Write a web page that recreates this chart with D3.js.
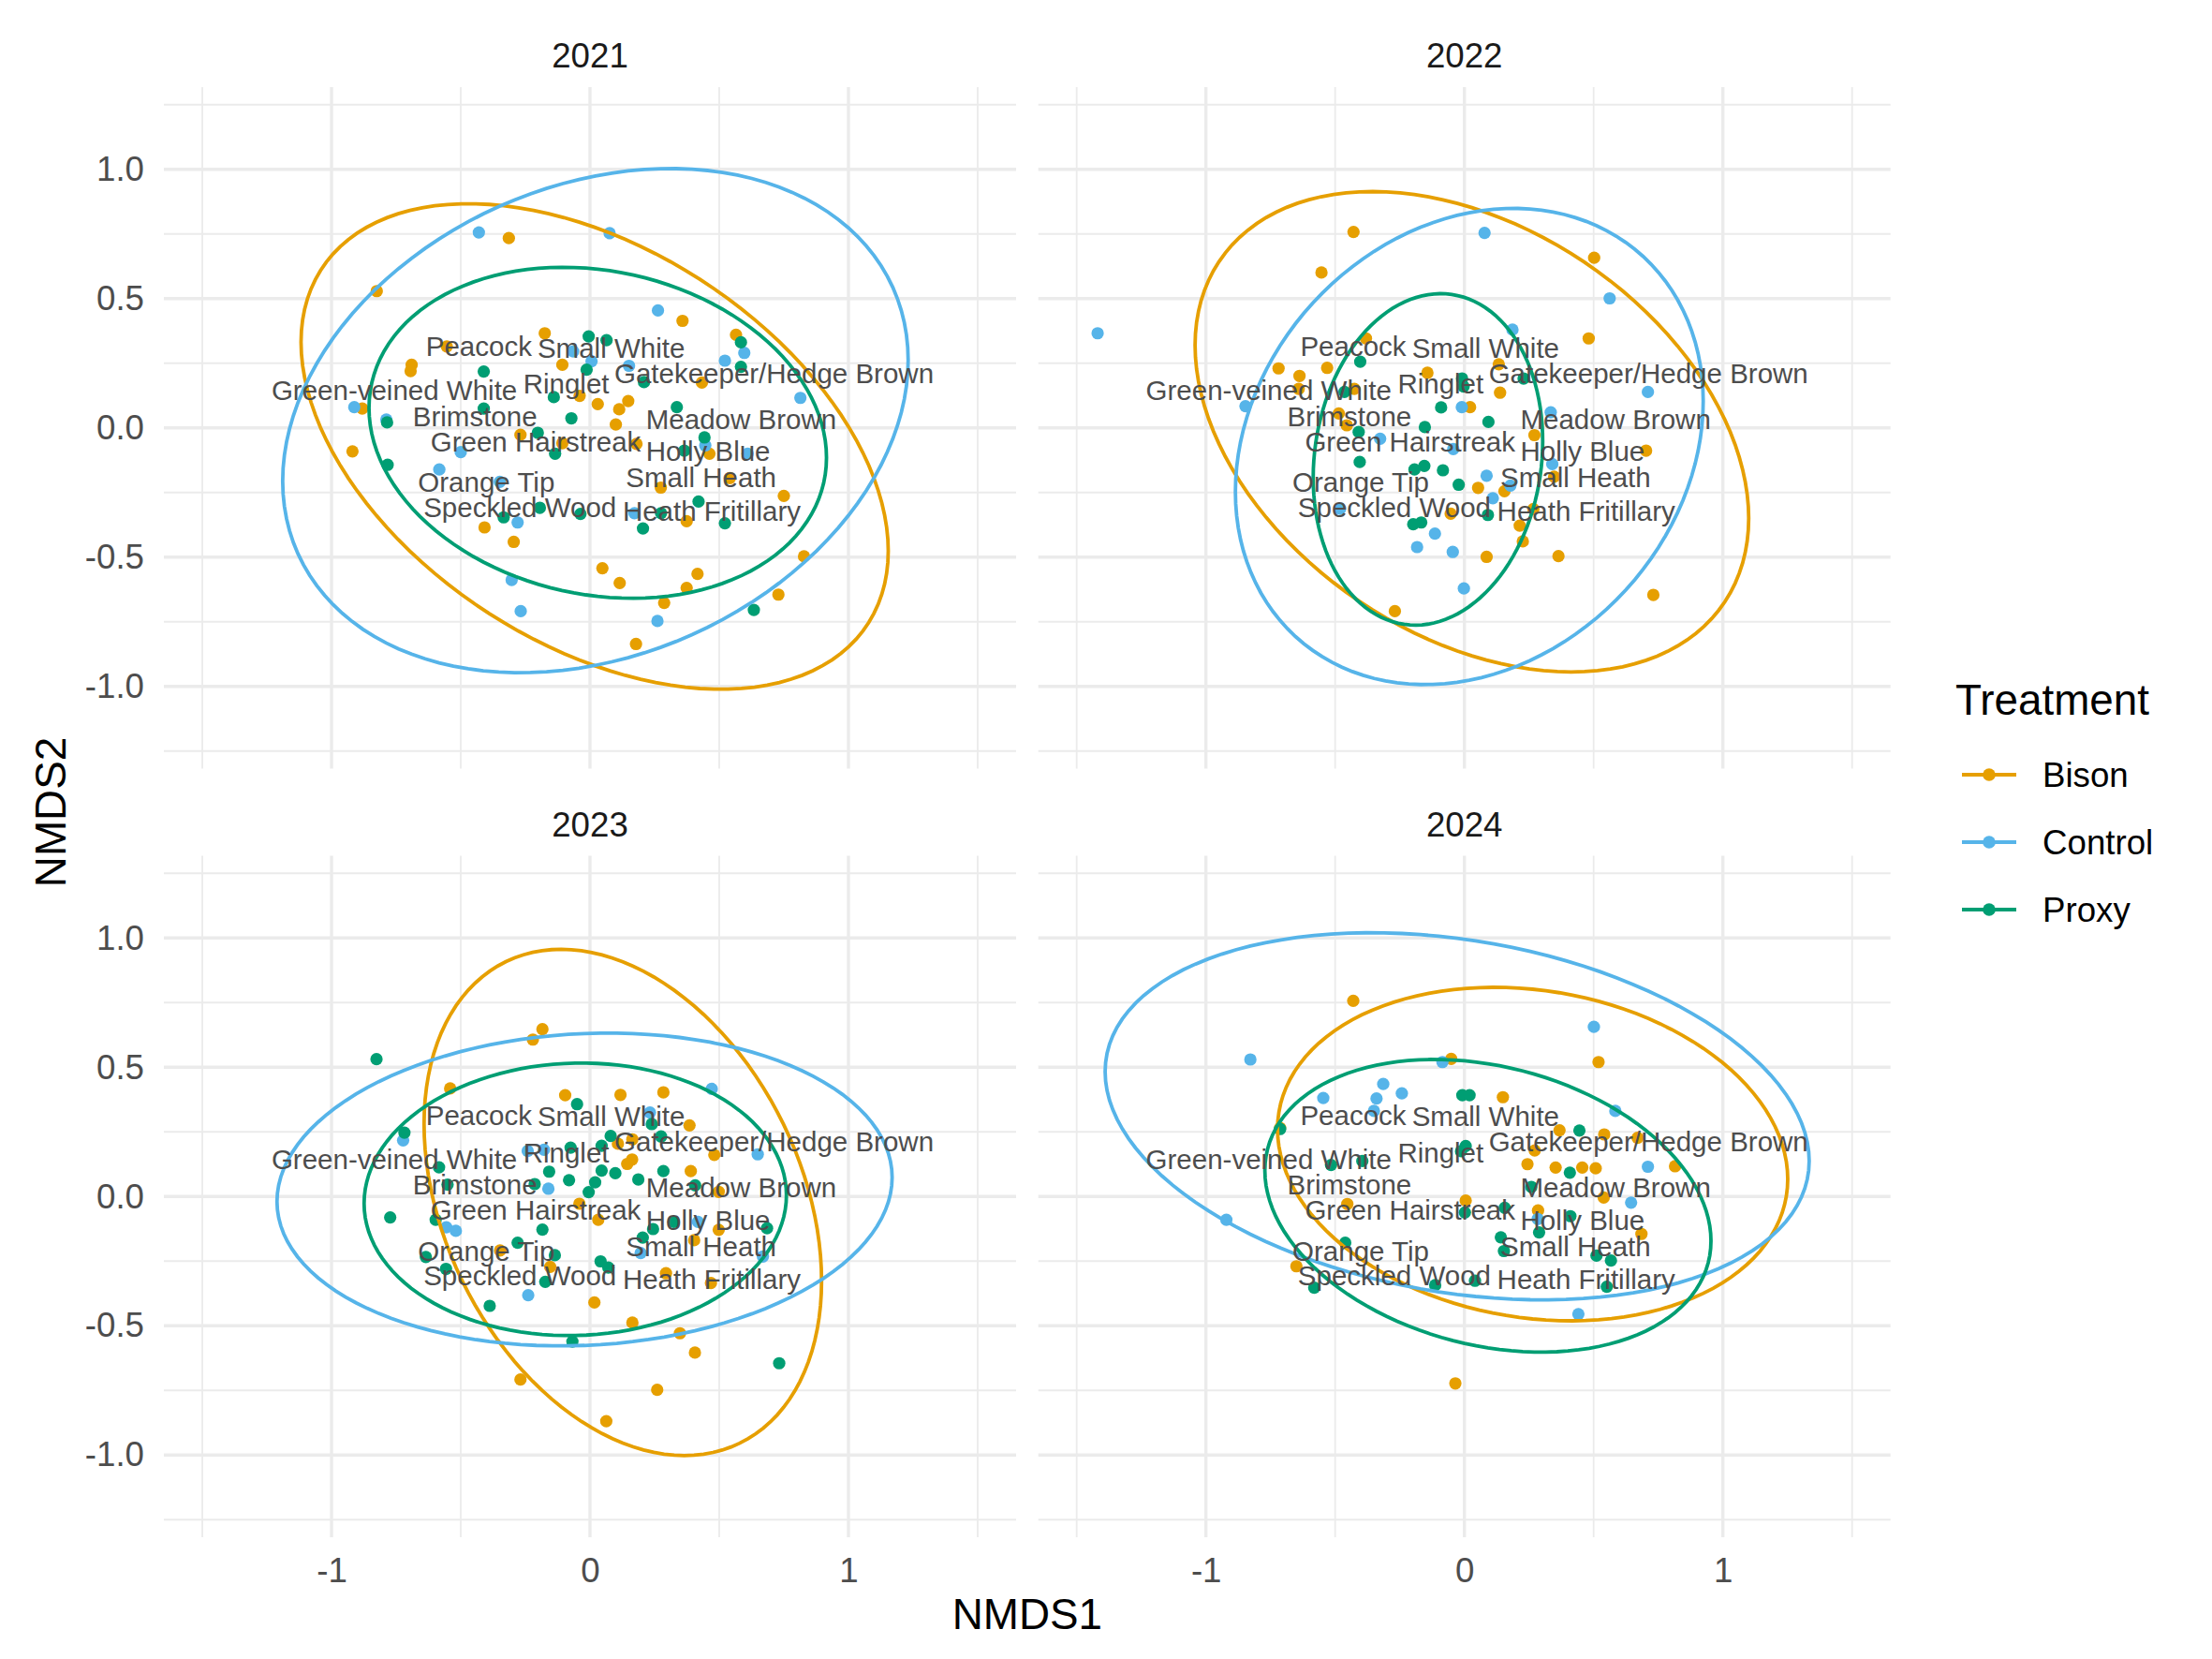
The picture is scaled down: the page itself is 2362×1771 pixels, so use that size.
<!DOCTYPE html>
<html>
<head>
<meta charset="utf-8">
<script src="https://cdn.jsdelivr.net/npm/d3@7"></script>
<style>
  body { margin: 0; background: #fff; }
  svg { display: block; }
  text { font-family: "Liberation Sans", Arial, sans-serif; }
</style>
</head>
<body>
<svg id="chart" width="2362" height="1771"></svg>
<script>
// NMDS of butterfly communities, one facet per year

var years = ['2021', '2022', '2023', '2024'];
var treatments = ['Bison', 'Control', 'Proxy'];
var colours = ['#E69F00', '#56B4E9', '#009E73'];

var xTicks = [-1, 0, 1];
var xTickLabels = ['-1', '0', '1'];
var xMinor = [-1.5, -0.5, 0.5, 1.5];
var yTicks = [-1, -0.5, 0, 0.5, 1];
var yTickLabels = ['-1.0', '-0.5', '0.0', '0.5', '1.0'];
var yMinor = [-1.25, -0.75, -0.25, 0.25, 0.75, 1.25];

// site scores [NMDS1, NMDS2]
var bison2021 = [[-0.314,0.734],[-0.825,0.529],[-0.175,0.366],[-0.554,0.315],[-0.690,0.244],[-0.694,0.220],[-0.107,0.244],[0.358,0.414],[0.565,0.360],[0.433,0.175],[-0.040,0.124],[0.030,0.092],[0.148,0.104],[0.113,0.072],[0.100,0.013],[-0.881,0.075],[-0.919,-0.091],[-0.269,-0.027],[-0.107,-0.059],[0.180,-0.062],[0.462,-0.100],[0.541,-0.194],[0.274,-0.231],[0.750,-0.263],[0.374,-0.361],[-0.408,-0.385],[-0.295,-0.441],[0.828,-0.497],[0.048,-0.543],[0.115,-0.600],[0.416,-0.565],[0.374,-0.619],[0.287,-0.677],[0.729,-0.645],[0.178,-0.836]];
var control2021 = [[-0.430,0.756],[0.076,0.753],[0.263,0.454],[-0.065,0.296],[0.006,0.258],[0.151,0.240],[0.522,0.260],[0.597,0.290],[0.814,0.116],[-0.912,0.080],[-0.788,0.032],[-0.500,-0.094],[-0.583,-0.161],[-0.349,-0.209],[-0.280,-0.366],[0.446,-0.068],[0.610,-0.100],[0.172,-0.330],[-0.303,-0.588],[-0.268,-0.709],[0.261,-0.747]];
var proxy2021 = [[-0.005,0.354],[0.064,0.339],[0.584,0.331],[-0.013,0.225],[-0.411,0.218],[0.584,0.236],[0.209,0.177],[-0.140,0.119],[0.336,0.080],[-0.411,0.075],[-0.072,0.037],[-0.785,0.021],[-0.202,-0.019],[0.443,-0.037],[-0.135,-0.100],[0.365,-0.088],[-0.783,-0.143],[0.420,-0.285],[-0.194,-0.309],[-0.037,-0.333],[-0.334,-0.346],[0.275,-0.330],[0.205,-0.389],[0.522,-0.369],[0.634,-0.704]];

var bison2022 = [[-0.429,0.758],[-0.553,0.601],[0.502,0.658],[0.481,0.346],[-0.381,0.346],[-0.719,0.230],[-0.638,0.201],[-0.531,0.232],[-0.641,0.151],[-0.426,0.151],[-0.143,0.213],[0.133,0.246],[0.138,0.136],[0.022,0.080],[-0.486,0.056],[-0.455,0.010],[0.271,-0.028],[0.703,-0.088],[0.347,-0.189],[0.053,-0.232],[0.155,-0.245],[-0.053,-0.332],[0.267,-0.314],[0.214,-0.378],[0.226,-0.439],[0.086,-0.499],[0.364,-0.496],[0.731,-0.646],[-0.269,-0.709]];
var control2022 = [[-1.419,0.366],[0.078,0.754],[0.562,0.501],[0.186,0.380],[0.710,0.139],[-0.847,0.084],[-0.010,0.080],[0.334,0.060],[-0.326,-0.042],[-0.043,-0.082],[0.340,-0.140],[0.086,-0.185],[0.178,-0.223],[0.110,-0.272],[-0.481,-0.313],[-0.114,-0.409],[-0.183,-0.461],[-0.045,-0.480],[-0.002,-0.621]];
var proxy2022 = [[-0.403,0.256],[-0.009,0.191],[-0.003,0.160],[0.229,0.191],[-0.464,0.139],[-0.090,0.079],[0.093,0.023],[-0.153,0.003],[-0.409,-0.016],[-0.405,-0.132],[-0.155,-0.147],[-0.193,-0.161],[-0.083,-0.164],[-0.022,-0.220],[0.091,-0.337],[-0.167,-0.366],[-0.198,-0.373]];

var bison2023 = [[-0.184,0.647],[-0.221,0.607],[-0.541,0.418],[-0.096,0.392],[0.118,0.393],[0.284,0.403],[0.385,0.275],[0.164,0.221],[0.108,0.204],[0.481,0.161],[0.163,0.143],[0.144,0.126],[0.390,0.098],[0.498,0.018],[-0.041,-0.028],[0.032,-0.090],[0.498,-0.129],[0.403,-0.169],[-0.348,-0.209],[-0.154,-0.272],[0.294,-0.297],[0.468,-0.335],[0.017,-0.410],[0.164,-0.488],[0.348,-0.529],[0.406,-0.604],[-0.269,-0.708],[0.260,-0.748],[0.063,-0.869]];
var control2023 = [[0.471,0.416],[0.232,0.325],[-0.723,0.217],[-0.241,0.176],[-0.178,0.181],[0.649,0.163],[-0.161,0.030],[0.418,-0.098],[-0.556,-0.119],[-0.519,-0.133],[0.196,-0.219],[0.669,-0.232],[-0.239,-0.382]];
var proxy2023 = [[-0.826,0.531],[-0.050,0.357],[0.239,0.280],[-0.718,0.247],[0.080,0.234],[0.275,0.232],[0.045,0.196],[-0.075,0.189],[-0.584,0.113],[-0.158,0.096],[0.045,0.100],[0.098,0.090],[0.284,0.098],[-0.081,0.063],[0.020,0.055],[0.187,0.066],[-0.214,0.048],[-0.005,0.017],[-0.551,0.046],[0.407,0.043],[-0.773,-0.081],[-0.597,-0.090],[-0.184,-0.128],[0.244,-0.126],[0.204,-0.159],[0.685,-0.123],[-0.280,-0.179],[-0.635,-0.234],[-0.136,-0.227],[0.041,-0.251],[0.071,-0.275],[-0.557,-0.280],[-0.173,-0.330],[-0.388,-0.423],[-0.068,-0.561],[0.732,-0.645],[0.324,-0.098]];

var bison2024 = [[-0.430,0.757],[-0.051,0.532],[0.519,0.520],[0.149,0.384],[-0.713,0.265],[0.368,0.256],[0.541,0.240],[0.670,0.227],[0.272,0.178],[0.244,0.125],[0.353,0.112],[0.456,0.112],[0.508,0.109],[0.815,0.117],[0.539,-0.004],[0.005,-0.016],[-0.453,-0.029],[0.285,-0.054],[0.685,-0.145],[-0.650,-0.270],[-0.035,-0.723]];
var control2024 = [[-0.828,0.530],[0.501,0.656],[-0.085,0.520],[-0.314,0.435],[-0.242,0.399],[-0.546,0.381],[-0.340,0.379],[-0.350,0.331],[0.584,0.331],[0.710,0.115],[0.645,-0.024],[-0.921,-0.090],[0.441,-0.455],[0.284,-0.087]];
var proxy2024 = [[-0.008,0.392],[0.020,0.392],[-0.713,0.261],[0.445,0.255],[0.005,0.195],[-0.013,0.175],[-0.516,0.122],[-0.395,0.137],[0.408,0.092],[0.259,0.037],[0.002,-0.062],[0.156,-0.044],[0.410,-0.076],[0.289,-0.139],[0.141,-0.158],[0.153,-0.211],[-0.461,-0.179],[0.511,-0.229],[0.567,-0.248],[-0.581,-0.353],[-0.113,-0.343],[0.041,-0.326],[0.551,-0.349]];

// 95% ellipses per treatment: [centre x, centre y, sd x, sd y, correlation]
var ellipses2021 = [[0.018,-0.072,1.136,0.939,-0.43],[0.021,0.028,1.210,0.975,0.24],[0.030,-0.019,0.885,0.640,-0.15]];
var ellipses2022 = [[0.029,-0.015,1.071,0.929,-0.36],[0.019,-0.072,0.905,0.921,0.19],[-0.141,-0.122,0.444,0.641,0.11]];
var ellipses2023 = [[0.127,-0.023,0.769,0.979,-0.31],[-0.021,0.027,1.190,0.605,0.077],[-0.057,-0.011,0.817,0.527,0.03]];
var ellipses2024 = [[0.264,0.164,0.987,0.645,-0.15],[-0.028,0.31,1.362,0.71,-0.243],[0.091,-0.036,0.863,0.566,-0.24]];

// species scores (same in every facet)
var species = ['Peacock', 'Small White', 'Gatekeeper/Hedge Brown', 'Green-veined White', 'Ringlet', 'Brimstone', 'Meadow Brown', 'Green Hairstreak', 'Holly Blue', 'Small Heath', 'Orange Tip', 'Speckled Wood', 'Heath Fritillary'];
var speciesX = [-0.430, 0.082, 0.712, -0.757, -0.092, -0.445, 0.585, -0.210, 0.457, 0.430, -0.401, -0.271, 0.471];
var speciesY = [0.315, 0.310, 0.212, 0.145, 0.169, 0.044, 0.033, -0.054, -0.092, -0.192, -0.210, -0.306, -0.321];

var sites = {
  '2021': [bison2021, control2021, proxy2021],
  '2022': [bison2022, control2022, proxy2022],
  '2023': [bison2023, control2023, proxy2023],
  '2024': [bison2024, control2024, proxy2024]
};
var ellipses = { '2021': ellipses2021, '2022': ellipses2022, '2023': ellipses2023, '2024': ellipses2024 };

// layout
var panelW = 910, panelH = 727.5;
var panelLeft = [175, 1108.7];
var panelTop = [93, 913.5];
var smallFont = 36.7, bigFont = 45.8;

var svg = d3.select('#chart');

// build a closed ellipse from the centre, spread and correlation
var ellipsePoints = function(e) {
  var n = 120, rho = e[4], k = Math.sqrt(1 - rho * rho);
  return d3.range(n).map(function(i) {
    var t = i / n * 2 * Math.PI;
    return [e[0] + e[2] * Math.cos(t), e[1] + e[3] * (rho * Math.cos(t) + k * Math.sin(t))];
  });
};

years.forEach(function(year, idx) {
  var col = idx % 2, row = Math.floor(idx / 2);
  var left = panelLeft[col], top = panelTop[row];

  var x = d3.scaleLinear().domain([-1.6486, 1.6486]).range([left, left + panelW]);
  var y = d3.scaleLinear().domain([-1.318, 1.318]).range([top + panelH, top]);

  var g = svg.append('g').attr('class', 'panel');

  // grid, minor first
  g.selectAll('.vminor').data(xMinor).enter().append('line')
    .attr('x1', x).attr('x2', x).attr('y1', top).attr('y2', top + panelH)
    .attr('stroke', '#ebebeb').attr('stroke-width', 1.8);
  g.selectAll('.hminor').data(yMinor).enter().append('line')
    .attr('y1', y).attr('y2', y).attr('x1', left).attr('x2', left + panelW)
    .attr('stroke', '#ebebeb').attr('stroke-width', 1.8);
  g.selectAll('.vmajor').data(xTicks).enter().append('line')
    .attr('x1', x).attr('x2', x).attr('y1', top).attr('y2', top + panelH)
    .attr('stroke', '#ebebeb').attr('stroke-width', 3.4);
  g.selectAll('.hmajor').data(yTicks).enter().append('line')
    .attr('y1', y).attr('y2', y).attr('x1', left).attr('x2', left + panelW)
    .attr('stroke', '#ebebeb').attr('stroke-width', 3.4);

  // strip label
  svg.append('text')
    .attr('x', left + panelW / 2).attr('y', top - 33.5).attr('dy', '0.35em')
    .attr('text-anchor', 'middle').attr('font-size', smallFont).attr('fill', '#1a1a1a')
    .text(year);

  // points
  sites[year].forEach(function(pts, t) {
    g.selectAll('.pt' + t).data(pts).enter().append('circle')
      .attr('cx', function(d) { return x(d[0]); })
      .attr('cy', function(d) { return y(d[1]); })
      .attr('r', 6.6)
      .attr('fill', colours[t]);
  });

  // ellipses
  var line = d3.line()
    .x(function(d) { return x(d[0]); })
    .y(function(d) { return y(d[1]); })
    .curve(d3.curveLinearClosed);
  ellipses[year].forEach(function(e, t) {
    g.append('path')
      .attr('d', line(ellipsePoints(e)))
      .attr('fill', 'none').attr('stroke', colours[t]).attr('stroke-width', 3.8);
  });

  // species labels
  g.selectAll('.sp').data(species).enter().append('text')
    .attr('x', function(d, i) { return x(speciesX[i]); })
    .attr('y', function(d, i) { return y(speciesY[i]); })
    .attr('dy', '0.35em').attr('text-anchor', 'middle')
    .attr('font-size', 29.5).attr('fill', '#4d4d4d')
    .text(function(d) { return d; });

  // axes only on the outer panels
  if (col === 0) {
    var ay = svg.append('g').attr('transform', 'translate(' + left + ',0)')
      .call(d3.axisLeft(y).tickValues(yTicks).tickSize(0).tickPadding(21)
        .tickFormat(function(d, i) { return yTickLabels[i]; }));
    ay.select('.domain').remove();
    ay.selectAll('text').attr('font-size', smallFont).attr('fill', '#4d4d4d')
      .attr('font-family', '"Liberation Sans", Arial, sans-serif');
  }
  if (row === 1) {
    var ax = svg.append('g').attr('transform', 'translate(0,' + (top + panelH) + ')')
      .call(d3.axisBottom(x).tickValues(xTicks).tickSize(0).tickPadding(22)
        .tickFormat(function(d, i) { return xTickLabels[i]; }));
    ax.select('.domain').remove();
    ax.selectAll('text').attr('font-size', smallFont).attr('fill', '#4d4d4d')
      .attr('font-family', '"Liberation Sans", Arial, sans-serif');
  }
});

// axis titles
svg.append('text')
  .attr('x', (panelLeft[0] + panelLeft[1] + panelW) / 2).attr('y', 1722.7).attr('dy', '0.35em')
  .attr('text-anchor', 'middle').attr('font-size', bigFont).attr('fill', '#000')
  .text('NMDS1');
svg.append('text')
  .attr('transform', 'translate(53.5,' + (panelTop[0] + panelTop[1] + panelH) / 2 + ') rotate(-90)')
  .attr('dy', '0.35em').attr('text-anchor', 'middle').attr('font-size', bigFont).attr('fill', '#000')
  .text('NMDS2');

// legend
var legend = svg.append('g').attr('transform', 'translate(2088,0)');
legend.append('text').attr('x', 0).attr('y', 763)
  .attr('font-size', bigFont).attr('fill', '#000').text('Treatment');
var keyY = d3.scalePoint().domain(treatments).range([827, 971]);
treatments.forEach(function(name, t) {
  var ky = keyY(name);
  legend.append('line').attr('x1', 7).attr('x2', 65).attr('y1', ky).attr('y2', ky)
    .attr('stroke', colours[t]).attr('stroke-width', 4.2);
  legend.append('circle').attr('cx', 36).attr('cy', ky).attr('r', 6.8).attr('fill', colours[t]);
  legend.append('text').attr('x', 93).attr('y', ky).attr('dy', '0.35em')
    .attr('font-size', smallFont).attr('fill', '#000').text(name);
});
</script>
</body>
</html>
